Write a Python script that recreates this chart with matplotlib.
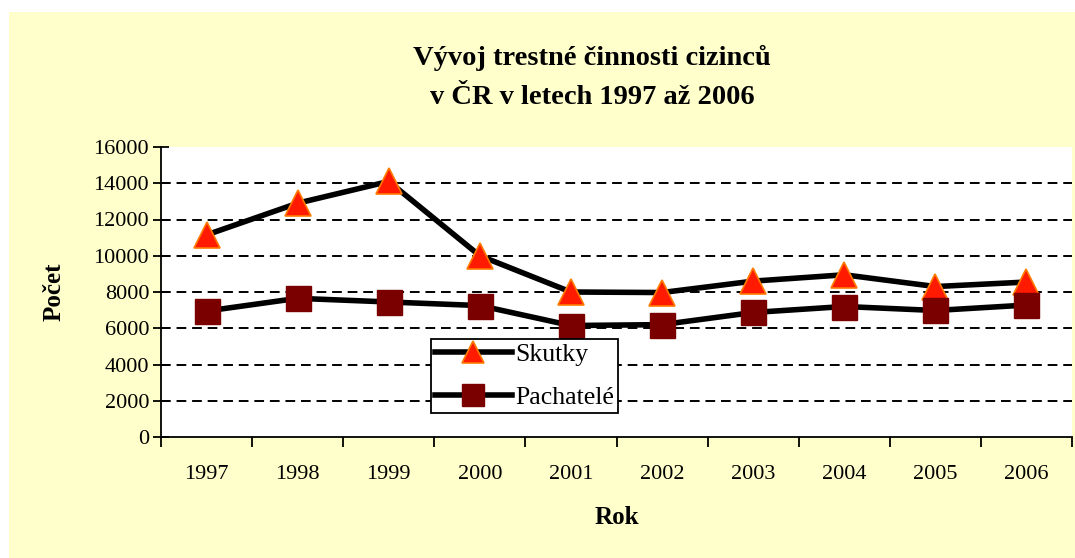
import matplotlib
matplotlib.use('Agg')
import matplotlib.pyplot as plt
from matplotlib.patches import Rectangle
from matplotlib.ticker import FixedLocator, MultipleLocator

plt.rcParams['font.family'] = ['Liberation Serif', 'DejaVu Serif']

# Data
roky = ['1997', '1998', '1999', '2000', '2001', '2002', '2003', '2004', '2005', '2006']
skutky = [11150, 12900, 14100, 10000, 8000, 7970, 8600, 8950, 8300, 8550]
pachatele = [6950, 7650, 7450, 7250, 6150, 6200, 6870, 7200, 6980, 7280]

fig = plt.figure(figsize=(10.75, 5.58), dpi=100)
fig.patch.set_facecolor('white')
# yellow chart area
fig.patches.append(Rectangle((9 / 1075, 0), 1 - 9 / 1075, 1 - 12 / 558,
                             transform=fig.transFigure, facecolor='#FFFFCC',
                             edgecolor='none', zorder=-5))

ax = fig.add_axes([161 / 1075, 1 - 437 / 558, (1072 - 161) / 1075, (437 - 147) / 558])
ax.set_zorder(1)
ax.set_facecolor('white')

x = list(range(len(roky)))
ax.plot(x, skutky, color='black', linewidth=4, marker='^', markersize=19,
        markerfacecolor='#FF1A00', markeredgecolor='#FF7A00', markeredgewidth=1.2,
        label='Skutky', zorder=3)
ax.plot(x, pachatele, color='black', linewidth=4, marker='s', markersize=18,
        markerfacecolor='#7A0000', markeredgecolor='#7A0000', markeredgewidth=1,
        label='Pachatelé', zorder=4)

ax.set_xlim(-0.5, len(roky) - 0.5)
ax.set_ylim(0, 16000)
ax.yaxis.set_major_locator(MultipleLocator(2000))
for yv in range(2000, 16000, 2000):
    ax.axhline(yv, color='black', linewidth=1.4, linestyle=(0, (5, 3)), zorder=1)

ax.set_xticks(x)
ax.set_xticklabels(roky)
ax.xaxis.set_minor_locator(FixedLocator([i - 0.5 for i in range(len(roky) + 1)]))
ax.tick_params(axis='x', which='major', length=0, pad=20, labelsize=16)
ax.tick_params(axis='x', which='minor', length=7, width=1.3, direction='out')
ax.tick_params(axis='y', which='major', length=11, width=1.3, direction='inout', labelsize=16, pad=3)

for s in ['top', 'right']:
    ax.spines[s].set_visible(False)
for s in ['left', 'bottom']:
    ax.spines[s].set_linewidth(1.3)

ax.set_xlabel('Rok', fontsize=18, fontweight='bold', labelpad=16)
ax.set_ylabel('Počet', fontsize=18, fontweight='bold', labelpad=20)

fig.text(592 / 1075, 1 - 58 / 558, 'Vývoj trestné činnosti cizinců', ha='center', va='center',
         fontsize=20.5, fontweight='bold')
fig.text(592 / 1075, 1 - 97 / 558, 'v ČR v letech 1997 až 2006', ha='center', va='center',
         fontsize=20.5, fontweight='bold')

leg = ax.legend(loc='lower left', bbox_to_anchor=(0.296, 0.083), fontsize=18.5,
                frameon=True, fancybox=False, framealpha=1, edgecolor='black',
                handlelength=3.0, borderpad=0.15, labelspacing=0.8, handletextpad=0.15,
                borderaxespad=0, markerscale=0.85)
leg.get_frame().set_linewidth(1.3)
leg.set_zorder(5)

fig.savefig('out.png', dpi=100)
